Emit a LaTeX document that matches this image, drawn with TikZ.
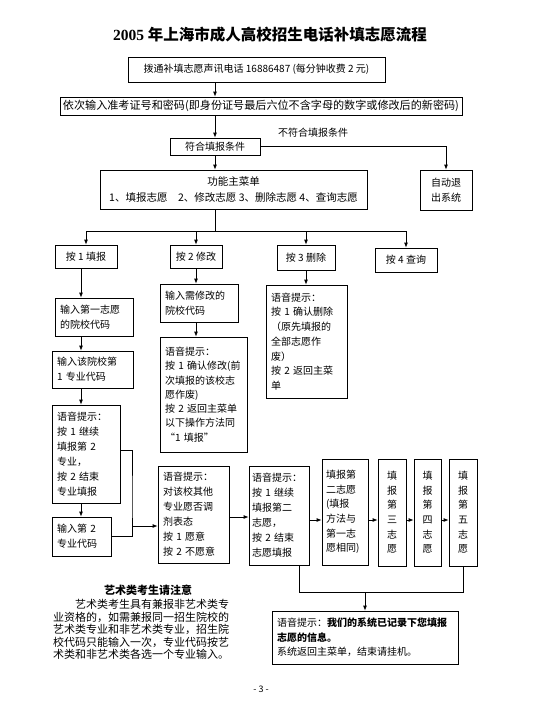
\documentclass[tikz,border=0pt]{standalone}
\usepackage{fontspec}
\setmainfont{Noto Sans CJK SC}
\newfontfamily\lserif{Liberation Serif}
\usetikzlibrary{arrows.meta}
\begin{document}
\begin{tikzpicture}[x=1pt,y=-1pt]
\tikzset{
  box/.style={draw=black, line width=0.8pt, inner xsep=5pt, inner ysep=0pt, font=\fontsize{10}{15}\selectfont, align=left},
  cbox/.style={box, align=center},
  vbox/.style={box, align=center, inner xsep=2pt, font=\fontsize{10}{14.6}\selectfont},
  arr/.style={line width=0.8pt, -{Latex[length=5pt,width=4pt]}},
  ln/.style={line width=0.8pt},
  lbl/.style={inner sep=0pt, font=\fontsize{10}{12}\selectfont}
}
\useasboundingbox (0,0) rectangle (540,710);
\fill[white] (0,0) rectangle (540,710);

% title
\node[inner sep=0pt, font=\fontsize{15.5}{18}\selectfont\bfseries] (title) at (270,35) {{\lserif 2005} 年上海市成人高校招生电话补填志愿流程};

% top chain
\node[cbox, minimum width=257pt, minimum height=25pt] (b1) at (256.5,69.5) {拨通补填志愿声讯电话 16886487 (每分钟收费 2 元)};
\node[cbox, minimum width=402pt, minimum height=18pt, inner xsep=2pt, font=\fontsize{11.1}{13}\selectfont] (b2) at (261,106) {依次输入准考证号和密码(即身份证号最后六位不含字母的数字或修改后的新密码)};
\node[cbox, minimum width=90pt, minimum height=17pt] (b3) at (215,146.5) {符合填报条件};
\node[lbl] (lab) at (313,133) {不符合填报条件};
\node[cbox, minimum width=52pt, minimum height=40pt] (exit) at (446,190) {自动退\\出系统};
\node[cbox, minimum width=267pt, minimum height=39pt, font=\fontsize{10.5}{16}\selectfont] (menu) at (233.5,189.5) {功能主菜单\\1、填报志愿\quad 2、修改志愿\ 3、删除志愿\ 4、查询志愿};

\draw[arr] (b1.south -| b3.north) -- (b2.north -| b3.north);
\draw[arr] (b2.south -| b3.north) -- (b3.north);
\draw[arr] (b3.south) -- (menu.north -| b3.south);
\draw[arr] (b3.east) -| (exit.north);

% menu keys
\node[cbox, minimum width=62pt, minimum height=23pt] (k1) at (86,256.5) {按 1 填报};
\node[cbox, minimum width=52pt, minimum height=23pt] (k2) at (196,256.5) {按 2 修改};
\node[cbox, minimum width=58pt, minimum height=25pt] (k3) at (306,257.5) {按 3 删除};
\node[cbox, minimum width=62pt, minimum height=24pt] (k4) at (406,260) {按 4 查询};

\coordinate (hub) at (215,231);
\draw[ln] (menu.south -| hub) -- (hub);
\draw[ln] (hub -| k1.north) -- (hub -| k4.north);
\foreach \k in {k1,k2,k3,k4} \draw[arr] (hub -| \k.north) -- (\k.north);

% column 1
\node[box, text width=68pt, minimum height=38pt] (f1) at (94,317) {输入第一志愿\\的院校代码};
\node[box, text width=71pt, minimum height=37pt] (f2) at (92.5,369.5) {输入该院校第\\1 专业代码};
\node[box, text width=58pt, minimum height=98pt] (f3) at (86,454) {语音提示：\\按 1 继续\\填报第 2\\专业，\\按 2 结束\\专业填报};
\node[box, text width=49pt, minimum height=39pt] (f4) at (81.5,536.5) {输入第 2\\专业代码};

\coordinate (c1) at (81,0);
\draw[arr] (k1.south -| c1) -- (f1.north -| c1);
\draw[arr] (f1.south -| c1) -- (f2.north -| c1);
\draw[arr] (f2.south -| c1) -- (f3.north -| c1);
\draw[arr] (f3.south -| c1) -- (f4.north -| c1);

% column 2
\node[box, text width=68pt, minimum height=38pt] (m1) at (199,303) {输入需修改的\\院校代码};
\node[box, text width=77pt, minimum height=115pt, font=\fontsize{10}{14.3}\selectfont] (m2) at (203.5,394.5) {语音提示：\\按 1 确认修改(前\\次填报的该校志\\愿作废)\\按 2 返回主菜单\\以下操作方法同\\“1 填报”};
\draw[arr] (k2.south) -- (k2.south |- m1.north);
\draw[arr] (m1.south -| k2.south) -- (m2.north -| k2.south);

% column 3
\node[box, text width=71pt, minimum height=113pt, font=\fontsize{10}{14.7}\selectfont] (d1) at (306.5,341.5) {语音提示：\\按 1 确认删除\\（原先填报的\\全部志愿作\\废）\\按 2 返回主菜\\单};
\draw[arr] (k3.south) -- (k3.south |- d1.north);

% lower row
\node[box, text width=61pt, minimum height=97pt] (adj) at (193.5,514.5) {语音提示：\\对该校其他\\专业愿否调\\剂表态\\按 1 愿意\\按 2 不愿意};
\node[box, inner xsep=3pt, text width=54pt, minimum height=99pt] (cont) at (279,515.5) {语音提示：\\按 1 继续\\填报第二\\志愿，\\按 2 结束\\志愿填报};
\node[box, inner xsep=4pt, text width=38pt, minimum height=106pt, font=\fontsize{10}{14.6}\selectfont] (v2) at (345,512) {填报第\\二志愿\\(填报\\方法与\\第一志\\愿相同)};
\node[vbox, minimum width=28pt, minimum height=107pt] (v3) at (392,512.5) {填\\报\\第\\三\\志\\愿};
\node[vbox, minimum width=27pt, minimum height=107pt] (v4) at (427.5,512.5) {填\\报\\第\\四\\志\\愿};
\node[vbox, minimum width=28pt, minimum height=107pt] (v5) at (463,512.5) {填\\报\\第\\五\\志\\愿};

\coordinate (j) at (132,500);
\draw[ln] ([yshift=4pt]f3.east) -| (j) |- (f4.east);
\coordinate (ja) at (132,526);
\draw[arr] (ja) -- (ja -| adj.west);
\coordinate (r1) at (0,517);
\draw[arr] (r1 -| adj.east) -- (r1 -| cont.west);
\coordinate (r2) at (0,520);
\draw[arr] (r2 -| cont.east) -- (r2 -| v2.west);
\draw[arr] (r2 -| v2.east) -- (r2 -| v3.west);
\draw[arr] (r2 -| v3.east) -- (r2 -| v4.west);
\draw[arr] (r2 -| v4.east) -- (r2 -| v5.west);

% final
\node[box, text width=176pt, minimum height=53pt, font=\fontsize{10}{14.5}\selectfont] (fin) at (365,637.5) {语音提示：\textbf{我们的系统已记录下您填报}\\\textbf{志愿的信息。}\\系统返回主菜单，结束请挂机。};
\coordinate (L1) at (299,592);
\draw[ln] (L1 |- cont.south) -- (L1) -| (v5.south);
\draw[arr] (L1 -| fin.north) -- (fin.north);

% note
\node[inner sep=0pt, font=\fontsize{11}{13}\selectfont\bfseries] (nt) at (148,590) {艺术类考生请注意};
\node[anchor=north west, align=left, inner sep=0pt, font=\fontsize{11}{12.6}\selectfont] (np) at (53,599) {\hspace*{22pt}艺术类考生具有兼报非艺术类专\\业资格的，如需兼报同一招生院校的\\艺术类专业和非艺术类专业，招生院\\校代码只能输入一次，专业代码按艺\\术类和非艺术类各选一个专业输入。};

\node[inner sep=0pt, font=\fontsize{9}{10}\selectfont] (pg) at (261,689) {- 3 -};
\end{tikzpicture}
\end{document}
